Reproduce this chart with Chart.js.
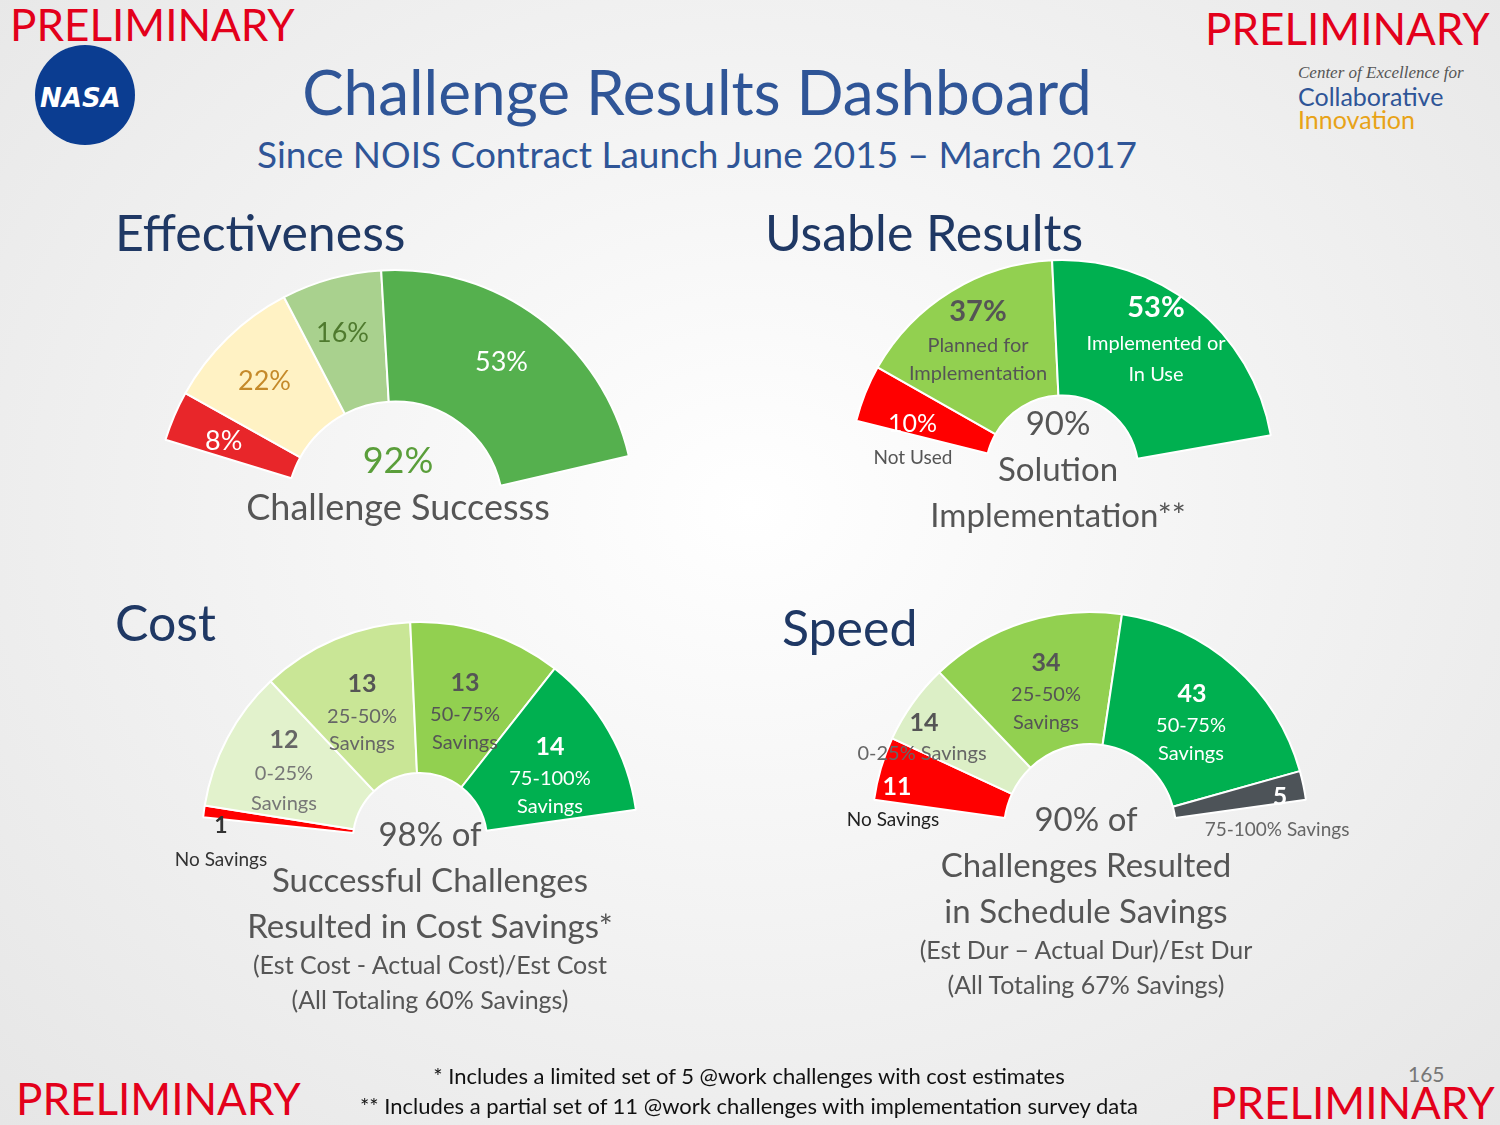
<!DOCTYPE html>
<html><head><meta charset="utf-8">
<script src="https://cdn.jsdelivr.net/npm/chart.js@4"></script>
<style>
body{margin:0;width:1500px;height:1125px;overflow:hidden;font-family:Lato,"Open Sans",sans-serif;
 background:radial-gradient(ellipse at 50% 45%,#ffffff 0%,#f1f1f1 55%,#e6e6e6 100%);position:relative}
.t{position:absolute;white-space:nowrap;line-height:1}
canvas{position:absolute}
.pre{color:#e3001b;font-size:44px}
.c{transform:translateX(-50%);text-align:center}
</style></head><body>
<div class="t pre" style="left:10px;top:2px">PRELIMINARY</div>
<div class="t pre" style="left:1205px;top:6px">PRELIMINARY</div>
<div class="t pre" style="left:16px;top:1076px">PRELIMINARY</div>
<div class="t pre" style="left:1210px;top:1080px">PRELIMINARY</div>
<div style="position:absolute;left:35px;top:45px;width:100px;height:100px;border-radius:50%;background:#0b3d91"></div>
<div class="t" style="left:40px;top:83px;color:#fff;font:bold 26px 'DejaVu Sans';font-style:italic">NASA</div>
<div class="t" style="left:1298px;top:63px;color:#555;font:italic 17px 'Liberation Serif'">Center of Excellence for</div>
<div class="t" style="left:1298px;top:84px;color:#2f5597;font-size:25px">Collaborative</div>
<div class="t" style="left:1298px;top:107px;color:#e8a317;font-size:25px">Innovation</div>
<div class="t c" style="left:697px;top:60px;font-size:62px;color:#2f5597">Challenge Results Dashboard</div>
<div class="t c" style="left:697px;top:135px;font-size:37px;color:#2f5597">Since NOIS Contract Launch June 2015 – March 2017</div>
<div class="t" style="left:115px;top:207px;font-size:50px;color:#1f3864">Effectiveness</div>
<div class="t" style="left:765px;top:207px;font-size:50px;color:#1f3864">Usable Results</div>
<div class="t" style="left:115px;top:597px;font-size:50px;color:#1f3864">Cost</div>
<div class="t" style="left:782px;top:602px;font-size:50px;color:#1f3864">Speed</div>

<canvas id="eff" width="600" height="600" style="left:95px;top:210px"></canvas>
<canvas id="use" width="600" height="600" style="left:762px;top:172px"></canvas>
<canvas id="cost" width="600" height="600" style="left:120px;top:540px"></canvas>
<canvas id="spd" width="600" height="600" style="left:790px;top:530px"></canvas>

<!-- Effectiveness labels -->
<div class="t" style="left:205px;top:426px;font-size:27px;color:#fff">8%</div>
<div class="t" style="left:238px;top:366px;font-size:27px;color:#c58a2a">22%</div>
<div class="t" style="left:316px;top:318px;font-size:27px;color:#4f7a2e">16%</div>
<div class="t" style="left:475px;top:347px;font-size:27px;color:#fff">53%</div>
<div class="t c" style="left:398px;top:441px;font-size:36px;color:#5a9e3a">92%</div>
<div class="t c" style="left:398px;top:488px;font-size:36px;color:#555">Challenge Successs</div>
<!-- Usable labels -->
<div class="t" style="left:888px;top:410px;font-size:25px;color:#fff">10%</div>
<div class="t c" style="left:913px;top:447px;font-size:19px;color:#555">Not Used</div>
<div class="t c" style="left:978px;top:295px;font-size:29px;color:#555;font-weight:bold">37%</div>
<div class="t c" style="left:978px;top:334px;font-size:20px;color:#555">Planned for</div>
<div class="t c" style="left:978px;top:362px;font-size:20px;color:#555">Implementation</div>
<div class="t c" style="left:1156px;top:291px;font-size:29px;color:#fff;font-weight:bold">53%</div>
<div class="t c" style="left:1156px;top:332px;font-size:20px;color:#fff">Implemented or</div>
<div class="t c" style="left:1156px;top:363px;font-size:20px;color:#fff">In Use</div>
<div class="t c" style="left:1058px;top:406px;font-size:33px;color:#555">90%</div>
<div class="t c" style="left:1058px;top:452px;font-size:33px;color:#555">Solution</div>
<div class="t c" style="left:1058px;top:498px;font-size:33px;color:#555">Implementation**</div>
<!-- Cost labels -->
<div class="t c" style="left:221px;top:813px;font-size:23px;color:#333;font-weight:bold">1</div>
<div class="t c" style="left:221px;top:849px;font-size:19px;color:#333">No Savings</div>
<div class="t c" style="left:284px;top:726px;font-size:25px;color:#666;font-weight:bold">12</div>
<div class="t c" style="left:284px;top:762px;font-size:20px;color:#777">0-25%</div>
<div class="t c" style="left:284px;top:792px;font-size:20px;color:#777">Savings</div>
<div class="t c" style="left:362px;top:670px;font-size:25px;color:#555;font-weight:bold">13</div>
<div class="t c" style="left:362px;top:705px;font-size:20px;color:#666">25-50%</div>
<div class="t c" style="left:362px;top:732px;font-size:20px;color:#666">Savings</div>
<div class="t c" style="left:465px;top:669px;font-size:25px;color:#555;font-weight:bold">13</div>
<div class="t c" style="left:465px;top:703px;font-size:20px;color:#555">50-75%</div>
<div class="t c" style="left:465px;top:731px;font-size:20px;color:#555">Savings</div>
<div class="t c" style="left:550px;top:733px;font-size:25px;color:#fff;font-weight:bold">14</div>
<div class="t c" style="left:550px;top:767px;font-size:20px;color:#fff">75-100%</div>
<div class="t c" style="left:550px;top:795px;font-size:20px;color:#fff">Savings</div>
<div class="t c" style="left:430px;top:817px;font-size:33px;color:#555">98% of</div>
<div class="t c" style="left:430px;top:863px;font-size:33px;color:#555">Successful Challenges</div>
<div class="t c" style="left:430px;top:909px;font-size:33px;color:#555">Resulted in Cost Savings*</div>
<div class="t c" style="left:430px;top:952px;font-size:25px;color:#555">(Est Cost - Actual Cost)/Est Cost</div>
<div class="t c" style="left:430px;top:987px;font-size:25px;color:#555">(All Totaling 60% Savings)</div>
<!-- Speed labels -->
<div class="t c" style="left:897px;top:773px;font-size:25px;color:#fff;font-weight:bold">11</div>
<div class="t c" style="left:893px;top:809px;font-size:19px;color:#222">No Savings</div>
<div class="t c" style="left:924px;top:709px;font-size:25px;color:#555;font-weight:bold">14</div>
<div class="t c" style="left:922px;top:742px;font-size:20px;color:#666">0-25% Savings</div>
<div class="t c" style="left:1046px;top:649px;font-size:25px;color:#555;font-weight:bold">34</div>
<div class="t c" style="left:1046px;top:683px;font-size:20px;color:#555">25-50%</div>
<div class="t c" style="left:1046px;top:711px;font-size:20px;color:#555">Savings</div>
<div class="t c" style="left:1192px;top:680px;font-size:25px;color:#fff;font-weight:bold">43</div>
<div class="t c" style="left:1191px;top:714px;font-size:20px;color:#fff">50-75%</div>
<div class="t c" style="left:1191px;top:742px;font-size:20px;color:#fff">Savings</div>
<div class="t c" style="left:1280px;top:783px;font-size:25px;color:#fff;font-weight:bold">5</div>
<div class="t c" style="left:1277px;top:819px;font-size:19px;color:#666">75-100% Savings</div>
<div class="t c" style="left:1086px;top:802px;font-size:33px;color:#555">90% of</div>
<div class="t c" style="left:1086px;top:848px;font-size:33px;color:#555">Challenges Resulted</div>
<div class="t c" style="left:1086px;top:894px;font-size:33px;color:#555">in Schedule Savings</div>
<div class="t c" style="left:1086px;top:937px;font-size:25px;color:#555">(Est Dur – Actual Dur)/Est Dur</div>
<div class="t c" style="left:1086px;top:972px;font-size:25px;color:#555">(All Totaling 67% Savings)</div>

<div class="t c" style="left:749px;top:1065px;font-size:22px;color:#111">* Includes a limited set of 5 @work challenges with cost estimates</div>
<div class="t c" style="left:749px;top:1095px;font-size:22px;color:#111">** Includes a partial set of 11 @work challenges with implementation survey data</div>
<div class="t" style="left:1408px;top:1063px;font-size:21px;color:#777">165</div>

<script>
// Gauge data
var effLabels = ['Failed', 'Partial', 'Mostly', 'Full success'];
var effValues = [8, 22, 16, 53];
var effColors = ['#e8262a', '#fff2c4', '#a9d18e', '#55b04e'];

var useLabels = ['Not Used', 'Planned for Implementation', 'Implemented or In Use'];
var useValues = [10, 37, 53];
var useColors = ['#ff0000', '#92d050', '#00b050'];

var costLabels = ['No Savings', '0-25% Savings', '25-50% Savings', '50-75% Savings', '75-100% Savings'];
var costValues = [1, 12, 13, 13, 14];
var costColors = ['#ff0000', '#e2f2cc', '#c9e696', '#92d050', '#00b050'];

var spdLabels = ['No Savings', '0-25% Savings', '25-50% Savings', '50-75% Savings', '75-100% Savings'];
var spdValues = [11, 14, 34, 43, 5];
var spdColors = ['#ff0000', '#dcefc6', '#92d050', '#00b050', '#4d5358'];

// partial arc: a transparent filler segment keeps the centre fixed
function gauge(id, values, colors, start, sweep, outer, inner) {
    var total = values.reduce(function (a, b) { return a + b; }, 0);
    var filler = total * (360 - sweep) / sweep;
    new Chart(document.getElementById(id), {
        type: 'doughnut',
        data: {
            datasets: [{
                data: values.concat([filler]),
                backgroundColor: colors.concat(['rgba(0,0,0,0)']),
                borderColor: colors.map(function () { return '#ffffff'; }).concat(['rgba(0,0,0,0)']),
                borderWidth: 2
            }]
        },
        options: {
            responsive: false,
            animation: false,
            rotation: start,
            radius: outer,
            cutout: inner,
            plugins: { legend: { display: false }, tooltip: { enabled: false } }
        }
    });
}

gauge('eff', effValues, effColors, -73, 150, 240, 135);
gauge('use', useValues, useColors, -76, 156, 212, 108);
gauge('cost', costValues, costColors, -84, 166, 218, 92);
gauge('spd', spdValues, spdColors, -82, 164, 218, 118);
</script>
</body></html>
